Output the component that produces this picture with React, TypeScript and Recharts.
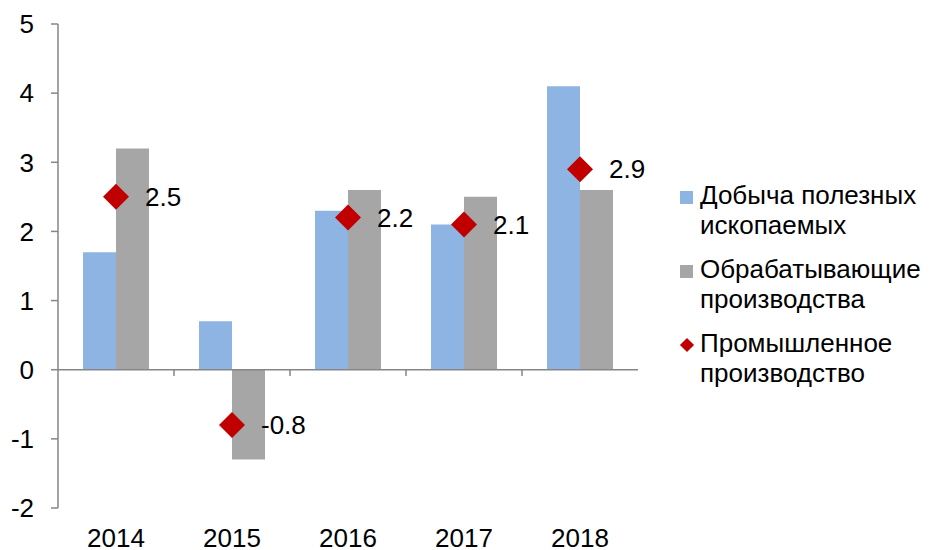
import React from 'react';
import {
  ComposedChart,
  Bar,
  Line,
  XAxis,
  YAxis,
  Legend,
  LabelList,
  ReferenceLine,
} from 'recharts';

const years = ['2014', '2015', '2016', '2017', '2018'];
const mining = [1.7, 0.7, 2.3, 2.1, 4.1];
const manufacturing = [3.2, -1.3, 2.6, 2.5, 2.6];
const industrial = [2.5, -0.8, 2.2, 2.1, 2.9];
const yTicks = [-2, -1, 0, 1, 2, 3, 4, 5];

const seriesNames = {
  mining: 'Добыча полезных ископаемых',
  manufacturing: 'Обрабатывающие производства',
  industrial: 'Промышленное производство',
};

const data = years.map((year, i) => ({
  year,
  mining: mining[i],
  manufacturing: manufacturing[i],
  industrial: industrial[i],
}));

const FONT = '"Liberation Sans", Arial, sans-serif';
const AXIS = '#868686';
const FS = 26;

const Diamond = (props: any) => {
  const { cx, cy } = props;
  if (cx == null || cy == null) return null;
  const r = 13;
  return (
    <polygon
      points={`${cx},${cy - r} ${cx + r},${cy} ${cx},${cy + r} ${cx - r},${cy}`}
      fill="#C00000"
    />
  );
};

const legendItems = [
  { label: ['Добыча полезных', 'ископаемых'], color: '#8EB4E3', shape: 'square' },
  { label: ['Обрабатывающие', 'производства'], color: '#A6A6A6', shape: 'square' },
  { label: ['Промышленное', 'производство'], color: '#C00000', shape: 'diamond' },
];

const LegendBox = () => (
  <div style={{ fontFamily: FONT, fontSize: FS, color: '#000', lineHeight: '30px' }}>
    {legendItems.map((item) => (
      <div key={item.label[0]} style={{ display: 'flex', alignItems: 'flex-start', marginBottom: 14 }}>
        <div
          style={{
            width: 20,
            flexShrink: 0,
            height: 30,
            display: 'flex',
            alignItems: 'center',
            paddingTop: 4,
            boxSizing: 'border-box',
          }}
        >
          {item.shape === 'square' ? (
            <div style={{ width: 13, height: 13, background: item.color }} />
          ) : (
            <div
              style={{
                width: 10,
                height: 10,
                marginLeft: 2,
                background: item.color,
                transform: 'rotate(45deg)',
              }}
            />
          )}
        </div>
        <div>
          {item.label.map((l) => (
            <div key={l} style={{ whiteSpace: 'nowrap' }}>{l}</div>
          ))}
        </div>
      </div>
    ))}
  </div>
);

export default function App() {
  return (
    <div
      style={{
        position: 'absolute',
        left: 0,
        top: 0,
        width: 929,
        height: 550,
        background: '#fff',
        overflow: 'hidden',
      }}
    >
      <ComposedChart
        width={929}
        height={550}
        data={data}
        margin={{ top: 24, right: 45, bottom: 12, left: 0 }}
        barGap={0}
        style={{ fontFamily: FONT }}
      >
        <XAxis
          dataKey="year"
          height={30}
          axisLine={false}
          tickLine={false}
          tickMargin={15}
          tick={{ fill: '#000', fontSize: FS }}
        />
        <YAxis
          width={58}
          domain={[-2, 5]}
          ticks={yTicks}
          interval={0}
          axisLine={{ stroke: AXIS, strokeWidth: 1.5 }}
          tickLine={{ stroke: AXIS, strokeWidth: 1.5 }}
          tickSize={7}
          tickMargin={17}
          tick={{ fill: '#000', fontSize: FS }}
        />
        <ReferenceLine y={0} stroke={AXIS} strokeWidth={1.5} />
        {years.slice(0, -1).map((y) => (
          <ReferenceLine
            key={y}
            segment={[
              { x: y, y: 0 },
              { x: y, y: -0.09 },
            ]}
            position="end"
            stroke={AXIS}
            strokeWidth={1.5}
          />
        ))}
        <Legend
          layout="vertical"
          align="right"
          verticalAlign="middle"
          content={<LegendBox />}
          wrapperStyle={{ left: 680, top: 180, width: 246 }}
        />
        <Bar dataKey="mining" name={seriesNames.mining} fill="#8EB4E3" barSize={33} isAnimationActive={false} />
        <Bar
          dataKey="manufacturing"
          name={seriesNames.manufacturing}
          fill="#A6A6A6"
          barSize={33}
          isAnimationActive={false}
        />
        <Line
          dataKey="industrial"
          name={seriesNames.industrial}
          stroke="none"
          dot={<Diamond />}
          activeDot={false}
          isAnimationActive={false}
        >
          <LabelList
            dataKey="industrial"
            position="right"
            offset={29}
            fill="#000"
            fontSize={FS}
          />
        </Line>
      </ComposedChart>
    </div>
  );
}
